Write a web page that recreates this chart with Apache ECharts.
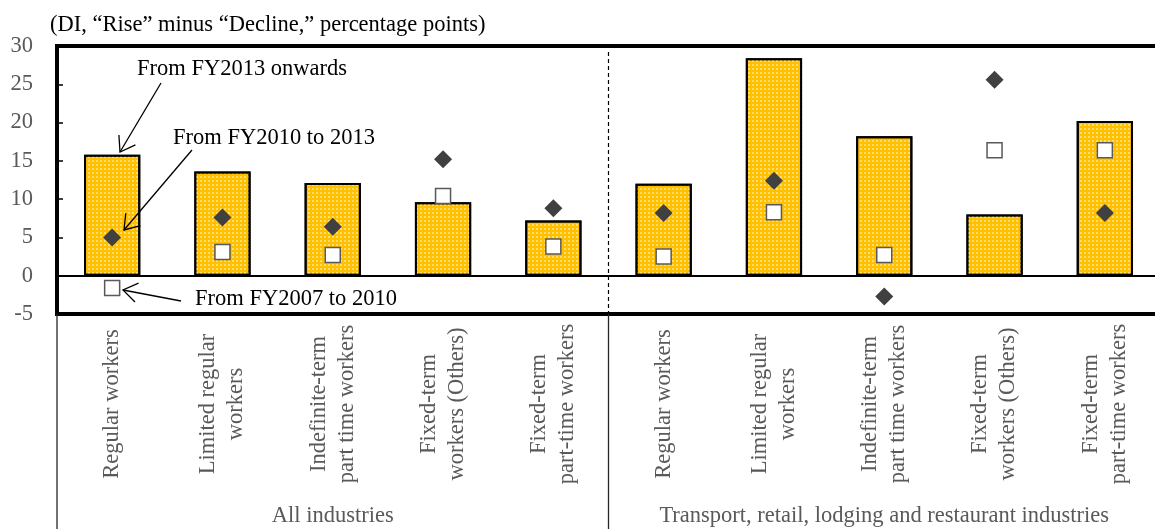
<!DOCTYPE html>
<html>
<head>
<meta charset="utf-8">
<script src="https://cdn.jsdelivr.net/npm/echarts@6/dist/echarts.min.js"></script>
<style>
  html, body { margin: 0; padding: 0; background: #fff; }
  #chart { width: 1155px; height: 529px; }
</style>
</head>
<body>
<div id="chart"></div>
<script>
// Worker categories, repeated for each industry group
const categories = [
  'Regular workers', 'Limited regular\nworkers', 'Indefinite-term\npart time workers',
  'Fixed-term\nworkers (Others)', 'Fixed-term\npart-time workers',
  'Regular workers', 'Limited regular\nworkers', 'Indefinite-term\npart time workers',
  'Fixed-term\nworkers (Others)', 'Fixed-term\npart-time workers'
];
const groups = ['All industries', 'Transport, retail, lodging and restaurant industries'];
const groupSize = 5;

// DI values ("Rise" minus "Decline", percentage points)
const fy2013Onwards = [15.8, 13.6, 12.1, 9.6, 7.2, 12.0, 28.4, 18.2, 8.0, 20.2];
const fy2010to2013  = [5.0, 7.6, 6.4, 15.2, 8.8, 8.2, 12.4, -2.7, 25.6, 8.2];
const fy2007to2010  = [-1.6, 3.1, 2.7, 10.4, 3.8, 2.5, 8.3, 2.7, 16.4, 16.4];

// Value axis range
const yMin = -5, yMax = 30, yStep = 5;

const FONT = 'Liberation Serif, Times New Roman, serif';
const FS = 22.5;
const GRAY = '#595959';

// Straight arrow with an open V head at the tip
function arrow(tail, tip) {
  const ang = Math.atan2(tail[1] - tip[1], tail[0] - tip[0]);
  const len = 17, spread = 0.6;
  const a1 = [tip[0] + len * Math.cos(ang - spread), tip[1] + len * Math.sin(ang - spread)];
  const a2 = [tip[0] + len * Math.cos(ang + spread), tip[1] + len * Math.sin(ang + spread)];
  const st = { stroke: '#000', lineWidth: 1.3, fill: null };
  return [
    { type: 'line', z: 100, shape: { x1: tail[0], y1: tail[1], x2: tip[0], y2: tip[1] }, style: st },
    { type: 'polyline', z: 100, shape: { points: [a1, tip, a2] }, style: st }
  ];
}

function note(x, y, text) {
  return {
    type: 'text', z: 100, x: x, y: y,
    style: { text: text, font: FS + 'px ' + FONT, fill: '#000', verticalAlign: 'middle', align: 'left' }
  };
}

const chart = echarts.init(document.getElementById('chart'), null, { renderer: 'canvas' });

chart.setOption({
  animation: false,
  backgroundColor: '#fff',
  title: {
    text: '(DI, \u201cRise\u201d minus \u201cDecline,\u201d percentage points)',
    left: 45, top: 9,
    textStyle: { fontFamily: FONT, fontSize: FS, fontWeight: 'normal', color: '#000' }
  },
  grid: {
    left: 57, top: 46, width: 1103, height: 268,
    outerBoundsMode: 'none',
    show: true, borderColor: '#000', borderWidth: 4, backgroundColor: 'transparent'
  },
  xAxis: [
    {
      type: 'category',
      data: categories,
      position: 'bottom',
      axisLine: { show: false },
      axisTick: { show: false },
      splitLine: { show: false },
      axisLabel: {
        interval: 0, rotate: 90, align: 'center', verticalAlign: 'middle',
        margin: 90, lineHeight: 28,
        fontFamily: FONT, fontSize: FS, color: GRAY
      }
    },
    {
      type: 'category',
      data: groups,
      position: 'bottom',
      axisLine: { show: false },
      axisTick: { show: false },
      splitLine: { show: false },
      axisLabel: {
        interval: 0, margin: 191,
        fontFamily: FONT, fontSize: FS, color: GRAY
      }
    }
  ],
  yAxis: {
    type: 'value',
    min: yMin, max: yMax, interval: yStep,
    axisLine: { show: false },
    axisTick: { show: true, inside: true, length: 6, lineStyle: { color: '#000', width: 1.5 } },
    splitLine: { show: false },
    axisLabel: { margin: 24, fontFamily: FONT, fontSize: FS, color: GRAY }
  },
  series: [
    {
      name: 'From FY2013 onwards',
      type: 'bar',
      xAxisIndex: 0,
      data: fy2013Onwards,
      barWidth: '51%',
      itemStyle: {
        color: '#FFC000',
        borderColor: '#000',
        borderWidth: 2,
        decal: {
          symbol: 'rect', symbolSize: 1,
          dashArrayX: [[2, 2]], dashArrayY: [2, 2],
          color: 'rgba(255,255,255,0.45)'
        }
      },
      markLine: {
        silent: true, symbol: 'none',
        label: { show: false },
        lineStyle: { color: '#000', width: 2, type: 'solid' },
        data: [{ yAxis: 0 }]
      }
    },
    {
      name: 'From FY2010 to 2013',
      type: 'scatter',
      xAxisIndex: 0,
      data: fy2010to2013,
      symbol: 'diamond',
      symbolSize: 18,
      itemStyle: { color: '#404040', opacity: 1 },
      z: 5
    },
    {
      name: 'From FY2007 to 2010',
      type: 'scatter',
      xAxisIndex: 0,
      data: fy2007to2010,
      symbol: 'rect',
      symbolSize: 15,
      itemStyle: { color: '#fff', borderColor: '#595959', borderWidth: 1.5, opacity: 1 },
      z: 5
    }
  ]
});

// Group separators: dashed inside the plot, solid below it down to the page edge
const c0 = chart.convertToPixel({ xAxisIndex: 0 }, 0);
const c1 = chart.convertToPixel({ xAxisIndex: 0 }, 1);
const band = c1 - c0;
const leftEdge = c0 - band / 2;
const midEdge = chart.convertToPixel({ xAxisIndex: 0 }, groupSize) - band / 2;
const yTop = chart.convertToPixel({ yAxisIndex: 0 }, yMax);
const yBottom = chart.convertToPixel({ yAxisIndex: 0 }, yMin);
const pageBottom = chart.getHeight();

const sepStyle = { stroke: '#262626', lineWidth: 1.3 };
const graphics = [
  { type: 'line', z: 1, shape: { x1: midEdge, y1: yTop + 6, x2: midEdge, y2: yBottom },
    style: { stroke: '#000', lineWidth: 1.2, lineDash: [4, 3] } },
  { type: 'line', z: 1, shape: { x1: midEdge, y1: yBottom, x2: midEdge, y2: pageBottom }, style: sepStyle },
  { type: 'line', z: 1, shape: { x1: leftEdge, y1: yBottom, x2: leftEdge, y2: pageBottom }, style: sepStyle },
  note(137, 69, 'From FY2013 onwards'),
  note(173, 138, 'From FY2010 to 2013'),
  note(195, 299, 'From FY2007 to 2010')
]
  .concat(arrow([161, 83], [120, 152]))
  .concat(arrow([192, 150], [124, 230]))
  .concat(arrow([181, 301], [123, 290]));

chart.setOption({ graphic: graphics });
</script>
</body>
</html>
